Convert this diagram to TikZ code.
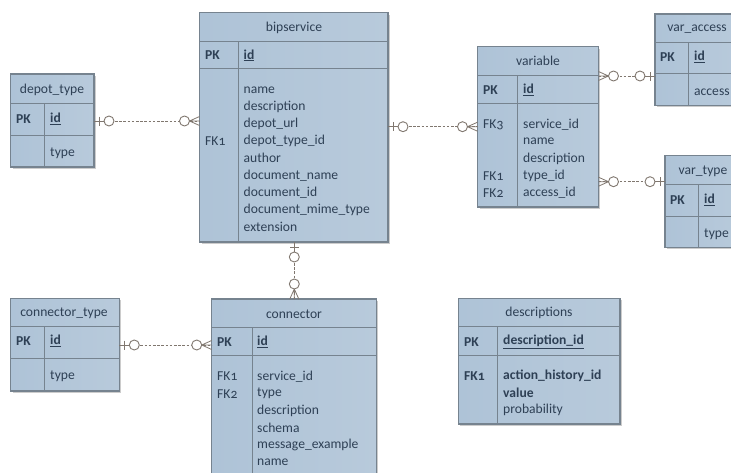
\documentclass[tikz,border=0pt]{standalone}
\usepackage{fontspec}
\setmainfont[Numbers=OldStyle]{Carlito}
\definecolor{tblA}{HTML}{AEC3D7}
\definecolor{tblB}{HTML}{B8CADB}
\definecolor{tblLine}{HTML}{76838F}
\definecolor{txtC}{HTML}{2E4055}
\definecolor{relC}{HTML}{80776F}
\tikzset{
  x=1pt,y=-1pt,
  tbl/.style={rectangle,inner sep=0pt,outer sep=0pt,draw=tblLine,line width=1.1pt,left color=tblA,right color=tblB},
  tline/.style={draw=tblLine,line width=1pt},
  fld/.style={anchor=west,inner sep=0pt,yshift=-0.8pt,text=txtC,font=\fontsize{13.6}{16}\selectfont},
  ttl/.style={anchor=center,inner sep=0pt,yshift=-0.8pt,text=txtC,font=\fontsize{13.6}{16}\selectfont},
  rel/.style={draw=relC,line width=.8pt,dash pattern=on 2.6pt off 1.6pt},
  oneend/.pic={
    \draw[relC,line width=.8pt] (0,0)--(10,0) (5,-4.5)--(5,4.5);
    \draw[relC,line width=.9pt,fill=white] (15,0) circle[radius=5];
  },
  crowend/.pic={
    \draw[relC,line width=.8pt] (10,0)--(0,-4.5) (10,0)--(0,0) (10,0)--(0,4.5);
    \draw[relC,line width=.9pt,fill=white] (15,0) circle[radius=5];
  }
}
% name, x0, y0, x1, y1, header y, row y, column x
\newcommand{\erbox}[8]{%
  \fill[black!20] (#2+2,#3+2) rectangle (#4+1.6,#5+1.6);
  \node[tbl,minimum width=#4 pt-#2 pt,minimum height=#5 pt-#3 pt] (#1) at ({(#2+#4)/2},{(#3+#5)/2}) {};
  \draw[tline] (#2,#6)--(#4,#6) (#2,#7)--(#4,#7) (#8,#6)--(#8,#5);
}
\begin{document}
\begin{tikzpicture}
\clip (0,0) rectangle (731,472);
\fill[white] (0,0) rectangle (731,472);

\erbox{bip}{199.5}{12.5}{388}{242}{41}{68}{238.5}
\erbox{depot}{10.5}{74}{94}{167}{103}{135}{44}
\erbox{var}{477.5}{46.5}{598.5}{207}{75}{103.5}{517.7}
\erbox{acc}{655}{14}{739}{105.7}{42}{73}{688.7}
\erbox{vty}{665}{155.7}{741}{247.7}{184}{216}{698}
\erbox{con}{211.7}{299}{376.7}{490}{327}{355.7}{252}
\erbox{cty}{10.5}{298.3}{119.3}{391}{326.7}{358.3}{44.5}
\erbox{des}{458.3}{298.3}{620}{424}{326.7}{355.7}{497.3}

% titles
\node[ttl] (bipT) at (294,27) {bipservice};
\node[ttl] (depotT) at (52,89) {depot\_type};
\node[ttl] (varT) at (538,60.5) {variable};
\node[ttl] (accT) at (697,28) {var\_access};
\node[ttl] (vtyT) at (703,170) {var\_type};
\node[ttl] (conT) at (294,313) {connector};
\node[ttl] (ctyT) at (64,312.5) {connector\_type};
\node[ttl] (desT) at (539,312.5) {descriptions};

% bipservice
\node[fld] (bipPK) at (205,54.5) {\textbf{PK}};
\node[fld] (bipId) at (243.5,54.5) {\textbf{\underline{id}}};
\foreach \t [count=\i] in {name,description,depot\_url,depot\_type\_id,author,document\_name,document\_id,document\_mime\_type,extension}
  \node[fld] (bipF\i) at (243.5,{89+17.1*(\i-1)}) {\t};
\node[fld] (bipFK) at (205,140) {FK1};

% depot_type
\node[fld] (depotPK) at (16,118) {\textbf{PK}};
\node[fld] (depotId) at (50,118) {\textbf{\underline{id}}};
\node[fld] (depotF) at (50,152) {type};

% variable
\node[fld] (varPK) at (483,89) {\textbf{PK}};
\node[fld] (varId) at (523,89) {\textbf{\underline{id}}};
\foreach \t [count=\i] in {service\_id,name,description,type\_id,access\_id}
  \node[fld] (varF\i) at (523,{123.7+17.1*(\i-1)}) {\t};
\node[fld] (varFK3) at (483,123.7) {FK3};
\node[fld] (varFK1) at (483,175) {FK1};
\node[fld] (varFK2) at (483,192) {FK2};

% var_access
\node[fld] (accPK) at (660,56) {\textbf{PK}};
\node[fld] (accId) at (694,56) {\textbf{\underline{id}}};
\node[fld] (accF) at (694,91) {access};

% var_type
\node[fld] (vtyPK) at (670,199) {\textbf{PK}};
\node[fld] (vtyId) at (704,199) {\textbf{\underline{id}}};
\node[fld] (vtyF) at (704,233) {type};

% connector
\node[fld] (conPK) at (217,341) {\textbf{PK}};
\node[fld] (conId) at (257,341) {\textbf{\underline{id}}};
\foreach \t [count=\i] in {service\_id,type,description,schema,message\_example,name}
  \node[fld] (conF\i) at (257,{375.7+17.2*(\i-1)}) {\t};
\node[fld] (conFK1) at (217,375.7) {FK1};
\node[fld] (conFK2) at (217,393) {FK2};

% connector_type
\node[fld] (ctyPK) at (16,340) {\textbf{PK}};
\node[fld] (ctyId) at (50,340) {\textbf{\underline{id}}};
\node[fld] (ctyF) at (50,375) {type};

% descriptions
\node[fld] (desPK) at (464,341) {\textbf{PK}};
\node[fld] (desId) at (503,341) {\textbf{\underline{description\_id}}};
\node[fld] (desFK) at (464,375) {\textbf{FK1}};
\node[fld] (desF1) at (503,375) {\textbf{action\_history\_id}};
\node[fld] (desF2) at (503,392) {\textbf{value}};
\node[fld] (desF3) at (503,409) {probability};

% connectors
\coordinate (r1) at (0,121);
\coordinate (r2) at (0,126.7);
\coordinate (r3) at (0,76);
\coordinate (r4) at (0,181.7);
\coordinate (r5) at (294.3,0);
\coordinate (r6) at (0,345);

\draw[rel] (depot.east |- r1) -- (bip.west |- r1);
\path (depot.east |- r1) pic[rotate=0] {oneend};
\path (bip.west |- r1) pic[rotate=180] {crowend};

\draw[rel] (bip.east |- r2) -- (var.west |- r2);
\path (bip.east |- r2) pic[rotate=0] {oneend};
\path (var.west |- r2) pic[rotate=180] {crowend};

\draw[rel] (var.east |- r3) -- (acc.west |- r3);
\path (var.east |- r3) pic[rotate=0] {crowend};
\path (acc.west |- r3) pic[rotate=180] {oneend};

\draw[rel] (var.east |- r4) -- (vty.west |- r4);
\path (var.east |- r4) pic[rotate=0] {crowend};
\path (vty.west |- r4) pic[rotate=180] {oneend};

\draw[rel] (r5 |- bip.south) -- (r5 |- con.north);
\path (r5 |- bip.south) pic[rotate=-90] {oneend};
\path (r5 |- con.north) pic[rotate=90] {crowend};

\draw[rel] (cty.east |- r6) -- (con.west |- r6);
\path (cty.east |- r6) pic[rotate=0] {oneend};
\path (con.west |- r6) pic[rotate=180] {crowend};
\end{tikzpicture}
\end{document}
